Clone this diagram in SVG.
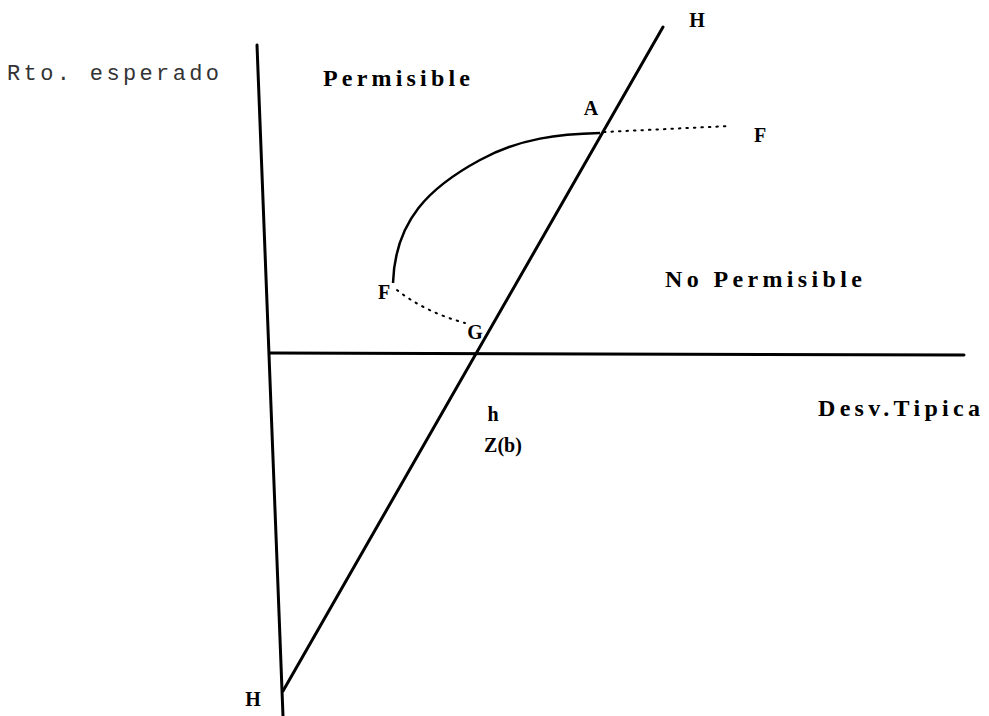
<svg xmlns="http://www.w3.org/2000/svg" width="989" height="716" viewBox="0 0 989 716">
<style>
.ax{stroke:#000;stroke-width:3;fill:none;stroke-linecap:round}
.cv{stroke:#000;stroke-width:2.5;fill:none}
.dt{stroke:#000;stroke-width:2;fill:none;stroke-dasharray:1.5 6;stroke-linecap:round}
.lb{font-family:"Liberation Serif",serif;font-weight:bold;fill:#000}
.mono{font-family:"Liberation Mono",monospace;fill:#333}
</style>
<rect width="989" height="716" fill="#fff"/>
<g id="connectors">
<line class="ax" x1="257" y1="45" x2="283" y2="716"/>
<line class="ax" x1="270" y1="353" x2="964" y2="355"/>
<line class="ax" x1="283" y1="691" x2="663" y2="27"/>
<path class="cv" d="M600 133 C560 134 520 138 480 160 C430 187 395 220 393 283"/>
<path class="dt" d="M604 132 L730 126"/>
<path class="dt" d="M397 290 Q425 312 465 323"/>
</g>
<g id="axis-y"><text class="mono" x="7" y="80" font-size="22" textLength="212" lengthAdjust="spacing">Rto. esperado</text></g>
<g id="region-permisible"><text class="lb" x="323" y="86" font-size="24" textLength="147" lengthAdjust="spacing">Permisible</text></g>
<g id="region-no-permisible"><text class="lb" x="665" y="287" font-size="24" textLength="197" lengthAdjust="spacing">No Permisible</text></g>
<g id="axis-x"><text class="lb" x="818" y="416" font-size="24" textLength="162" lengthAdjust="spacing">Desv.Tipica</text></g>
<g id="point-H-top"><text class="lb" x="697" y="27" font-size="20" text-anchor="middle">H</text></g>
<g id="point-A"><text class="lb" x="591" y="115" font-size="20" text-anchor="middle">A</text></g>
<g id="point-F-right"><text class="lb" x="760" y="142" font-size="20" text-anchor="middle">F</text></g>
<g id="point-F-left"><text class="lb" x="384" y="299" font-size="20" text-anchor="middle">F</text></g>
<g id="point-G"><text class="lb" x="475" y="339" font-size="20" text-anchor="middle">G</text></g>
<g id="point-h"><text class="lb" x="493" y="421" font-size="20" text-anchor="middle">h</text></g>
<g id="label-Zb"><text class="lb" x="503" y="452" font-size="20" text-anchor="middle">Z(b)</text></g>
<g id="point-H-bottom"><text class="lb" x="253" y="706" font-size="20" text-anchor="middle">H</text></g>
</svg>
